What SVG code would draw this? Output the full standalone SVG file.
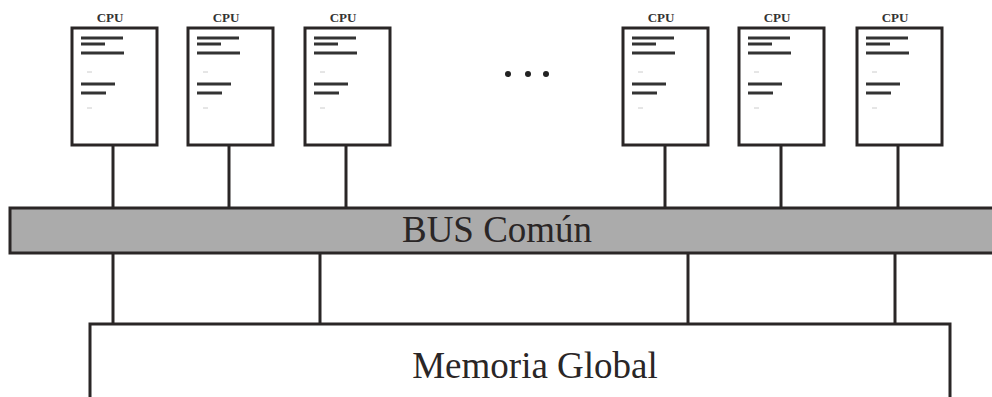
<svg xmlns="http://www.w3.org/2000/svg" width="992" height="397" viewBox="0 0 992 397">
<defs>
<style>
.box{fill:#fff;stroke:#2a2626;stroke-width:3}
.ln{stroke:#2a2626;stroke-width:3;fill:none}
.tl{stroke:#333;stroke-width:3}
.dash{stroke:#ccc;stroke-width:1}
.cpu{font-family:"Liberation Serif",serif;font-weight:bold;font-size:13px;fill:#333;text-anchor:middle}
.big{font-family:"Liberation Serif",serif;font-size:37px;fill:#2a2626;text-anchor:middle}
</style>
<g id="cpuicon">
<rect class="box" x="0" y="0" width="85" height="117"/>
<line class="tl" x1="9" y1="10" x2="51" y2="10"/>
<line class="tl" x1="9" y1="16" x2="33" y2="16"/>
<line class="tl" x1="9" y1="25" x2="52" y2="25"/>
<line class="dash" x1="15" y1="44" x2="20" y2="44"/>
<line class="tl" x1="9" y1="56" x2="43" y2="56"/>
<line class="tl" x1="9" y1="65" x2="34" y2="65"/>
<line class="dash" x1="15" y1="80" x2="20" y2="80"/>
</g>
</defs>
<rect width="992" height="397" fill="#fff"/>
<g id="connectors">
<line class="ln" x1="113" y1="145" x2="113" y2="208"/>
<line class="ln" x1="229" y1="145" x2="229" y2="208"/>
<line class="ln" x1="346" y1="145" x2="346" y2="208"/>
<line class="ln" x1="665" y1="145" x2="665" y2="208"/>
<line class="ln" x1="781" y1="145" x2="781" y2="208"/>
<line class="ln" x1="898" y1="145" x2="898" y2="208"/>
<line class="ln" x1="113" y1="253" x2="113" y2="324"/>
<line class="ln" x1="320" y1="253" x2="320" y2="324"/>
<line class="ln" x1="688" y1="253" x2="688" y2="324"/>
<line class="ln" x1="895" y1="253" x2="895" y2="324"/>
</g>
<g id="cpu1"><use href="#cpuicon" x="72" y="28"/><text class="cpu" x="110" y="22">CPU</text></g>
<g id="cpu2"><use href="#cpuicon" x="188" y="28"/><text class="cpu" x="226" y="22">CPU</text></g>
<g id="cpu3"><use href="#cpuicon" x="305" y="28"/><text class="cpu" x="343" y="22">CPU</text></g>
<g id="dots" fill="#222"><circle cx="508" cy="74" r="3"/><circle cx="528" cy="74" r="3"/><circle cx="546" cy="74" r="3"/></g>
<g id="cpu4"><use href="#cpuicon" x="623" y="28"/><text class="cpu" x="661" y="22">CPU</text></g>
<g id="cpu5"><use href="#cpuicon" x="739" y="28"/><text class="cpu" x="777" y="22">CPU</text></g>
<g id="cpu6"><use href="#cpuicon" x="857" y="28"/><text class="cpu" x="895" y="22">CPU</text></g>
<g id="bus">
<rect x="10" y="208" width="1000" height="45" fill="#ababab" stroke="#2a2626" stroke-width="3"/>
<text class="big" x="497" y="242" textLength="190" lengthAdjust="spacingAndGlyphs">BUS Común</text>
</g>
<g id="memoria">
<rect x="90" y="324" width="860" height="90" fill="#fff" stroke="#2a2626" stroke-width="3"/>
<text class="big" x="535" y="378">Memoria Global</text>
</g>
</svg>
